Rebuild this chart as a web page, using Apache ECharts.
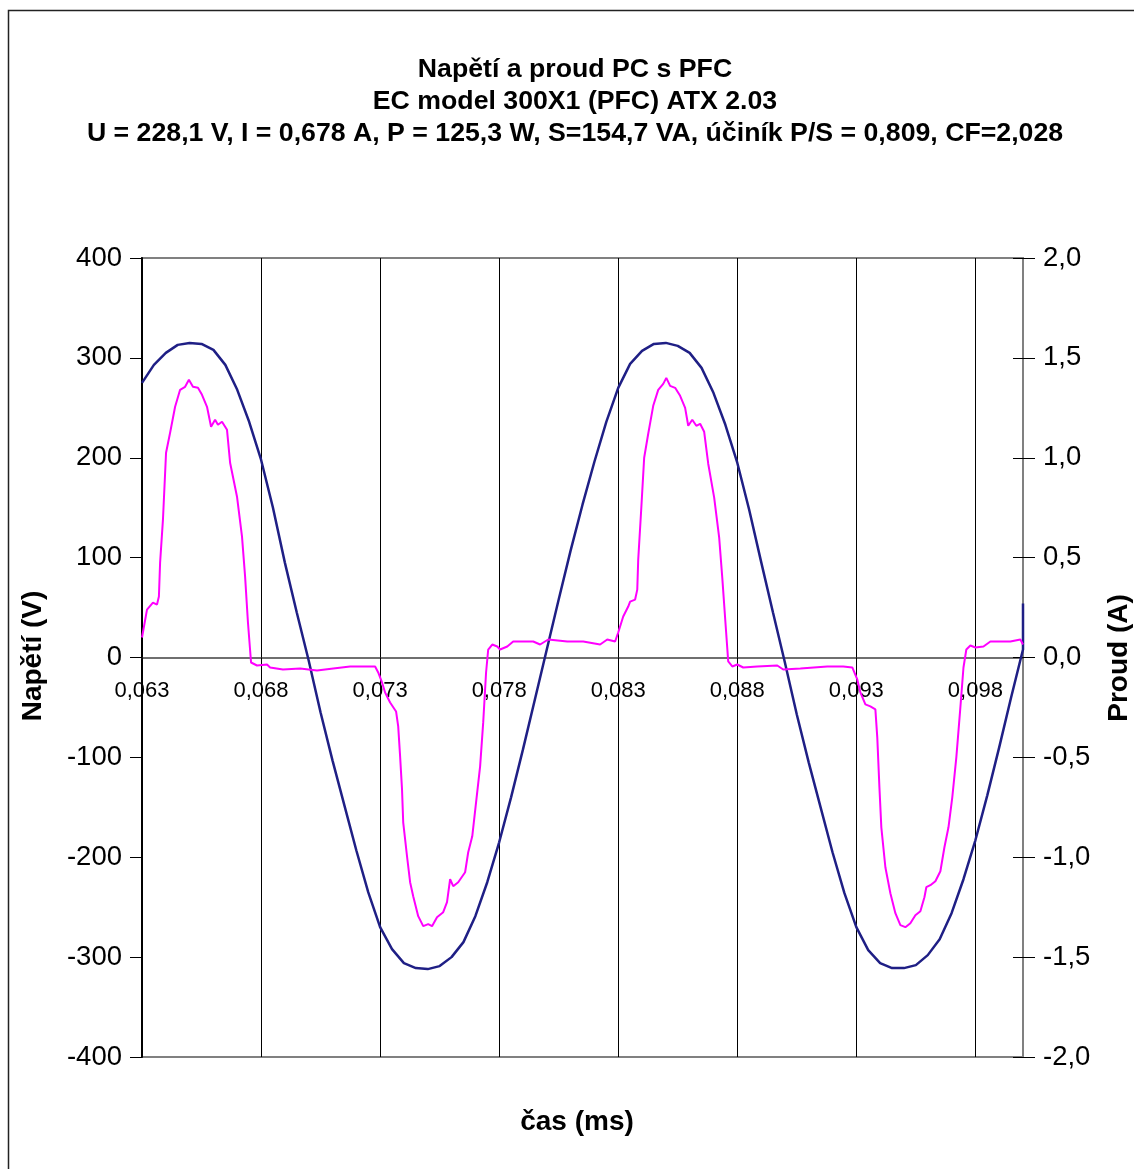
<!DOCTYPE html>
<html>
<head>
<meta charset="utf-8">
<script src="https://cdn.jsdelivr.net/npm/echarts@6/dist/echarts.min.js"></script>
<style>
  html, body { margin: 0; padding: 0; background: #fff; }
  #chart { width: 1134px; height: 1169px; }
</style>
</head>
<body>
<div id="chart"></div>
<script>
  // cas (s) a napeti (V)
  const voltTime = [
    0.0630, 0.0635, 0.0640, 0.0645, 0.0650, 0.0655, 0.0660, 0.0665, 0.0670, 0.0675,
    0.0680, 0.0685, 0.0690, 0.0695, 0.0700, 0.0705, 0.0710, 0.0715, 0.0720, 0.0725,
    0.0730, 0.0735, 0.0740, 0.0745, 0.0750, 0.0755, 0.0760, 0.0765, 0.0770, 0.0775,
    0.0780, 0.0785, 0.0790, 0.0795, 0.0800, 0.0805, 0.0810, 0.0815, 0.0820, 0.0825,
    0.0830, 0.0835, 0.0840, 0.0845, 0.0850, 0.0855, 0.0860, 0.0865, 0.0870, 0.0875,
    0.0880, 0.0885, 0.0890, 0.0895, 0.0900, 0.0905, 0.0910, 0.0915, 0.0920, 0.0925,
    0.0930, 0.0935, 0.0940, 0.0945, 0.0950, 0.0955, 0.0960, 0.0965, 0.0970, 0.0975,
    0.0980, 0.0985, 0.0990, 0.0995, 0.1000, 0.1000
  ];
  const voltage = [
    275, 293, 305, 313, 315, 314, 308, 293, 268, 236,
    198, 150, 95, 45, -3, -55, -103, -148, -193, -235,
    -270, -292, -306, -311, -312, -309, -300, -285, -259, -225,
    -185, -140, -92, -42, 8, 58, 107, 153, 196, 236,
    270, 294, 307, 314, 315, 312, 305, 290, 265, 233,
    195, 148, 96, 45, -5, -57, -105, -150, -195, -236,
    -270, -293, -306, -311, -311, -308, -298, -282, -256, -222,
    -183, -138, -90, -40, 8, 54
  ];

  // cas (s) a proud (A)
  const currTime = [
    0.06300, 0.06321, 0.06346, 0.06363, 0.06371, 0.06376, 0.06388, 0.06401, 0.06418, 0.06439,
    0.06460, 0.06481, 0.06497, 0.06514, 0.06535, 0.06552, 0.06573, 0.06590, 0.06607, 0.06619,
    0.06636, 0.06657, 0.06670, 0.06699, 0.06720, 0.06733, 0.06745, 0.06758, 0.06783, 0.06825,
    0.06838, 0.06892, 0.06964, 0.07035, 0.07103, 0.07174, 0.07279, 0.07292, 0.07308, 0.07321,
    0.07342, 0.07367, 0.07376, 0.07384, 0.07392, 0.07397, 0.07413, 0.07426, 0.07439, 0.07460,
    0.07481, 0.07502, 0.07518, 0.07539, 0.07565, 0.07581, 0.07594, 0.07607, 0.07628, 0.07657,
    0.07670, 0.07687, 0.07703, 0.07720, 0.07733, 0.07745, 0.07754, 0.07771, 0.07792, 0.07804,
    0.07834, 0.07859, 0.07943, 0.07972, 0.08006, 0.08086, 0.08153, 0.08224, 0.08254, 0.08287,
    0.08300, 0.08321, 0.08342, 0.08350, 0.08371, 0.08380, 0.08384, 0.08397, 0.08409, 0.08426,
    0.08447, 0.08468, 0.08489, 0.08502, 0.08518, 0.08539, 0.08560, 0.08581, 0.08594, 0.08611,
    0.08628, 0.08644, 0.08661, 0.08678, 0.08703, 0.08724, 0.08737, 0.08750, 0.08762, 0.08779,
    0.08800, 0.08825, 0.08884, 0.08968, 0.08993, 0.09065, 0.09178, 0.09245, 0.09283, 0.09304,
    0.09317, 0.09338, 0.09359, 0.09380, 0.09388, 0.09397, 0.09405, 0.09422, 0.09443, 0.09464,
    0.09485, 0.09506, 0.09527, 0.09548, 0.09569, 0.09586, 0.09594, 0.09611, 0.09632, 0.09653,
    0.09670, 0.09687, 0.09703, 0.09720, 0.09737, 0.09750, 0.09762, 0.09779, 0.09800, 0.09834,
    0.09863, 0.09947, 0.09989, 0.10000
  ];
  const current = [
    0.10, 0.24, 0.275, 0.265, 0.305, 0.475, 0.69, 1.025, 1.125, 1.255,
    1.34, 1.355, 1.39, 1.355, 1.35, 1.315, 1.255, 1.155, 1.19, 1.165,
    1.18, 1.14, 0.975, 0.805, 0.605, 0.405, 0.175, -0.025, -0.04, -0.035,
    -0.05, -0.06, -0.055, -0.065, -0.055, -0.045, -0.045, -0.075, -0.125, -0.175,
    -0.225, -0.27, -0.345, -0.495, -0.66, -0.825, -0.995, -1.125, -1.195, -1.295,
    -1.345, -1.335, -1.345, -1.30, -1.275, -1.225, -1.11, -1.145, -1.125, -1.075,
    -0.975, -0.895, -0.725, -0.545, -0.325, -0.075, 0.04, 0.065, 0.055, 0.04,
    0.055, 0.08, 0.08, 0.065, 0.09, 0.08, 0.08, 0.065, 0.09, 0.08,
    0.125, 0.205, 0.255, 0.28, 0.29, 0.34, 0.49, 0.75, 1.00, 1.12,
    1.26, 1.34, 1.37, 1.40, 1.36, 1.35, 1.31, 1.25, 1.16, 1.19,
    1.16, 1.17, 1.13, 0.97, 0.80, 0.60, 0.40, 0.18, -0.02, -0.045,
    -0.035, -0.05, -0.045, -0.04, -0.06, -0.055, -0.045, -0.045, -0.05, -0.11,
    -0.175, -0.235, -0.245, -0.26, -0.40, -0.65, -0.85, -1.05, -1.18, -1.28,
    -1.34, -1.35, -1.33, -1.29, -1.27, -1.20, -1.15, -1.14, -1.12, -1.07,
    -0.95, -0.85, -0.70, -0.50, -0.25, -0.05, 0.04, 0.06, 0.05, 0.055,
    0.08, 0.08, 0.09, 0.065
  ];

  const xTicks = [0.063, 0.068, 0.073, 0.078, 0.083, 0.088, 0.093, 0.098];

  const titleText = 'Napětí a proud PC s PFC\nEC model 300X1 (PFC) ATX 2.03\n' +
    'U = 228,1 V, I = 0,678 A, P = 125,3 W, S=154,7 VA, účiník P/S = 0,809, CF=2,028';

  const font = '"Liberation Sans", Arial, sans-serif';
  const comma = (v, d) => v.toFixed(d).replace('.', ',');

  const chart = echarts.init(document.getElementById('chart'));
  chart.setOption({
    animation: false,
    backgroundColor: '#fff',
    textStyle: { fontFamily: font },
    title: {
      text: titleText,
      left: 570,
      top: 49,
      textAlign: 'center',
      textStyle: { fontSize: 26.7, fontWeight: 'bold', color: '#000', lineHeight: 32, fontFamily: font }
    },
    grid: {
      left: 142, right: 111, top: 258, bottom: 112,
      show: true, borderColor: '#808080', borderWidth: 2
    },
    graphic: [
      { type: 'rect', shape: { x: 8.5, y: 10.5, width: 1200, height: 1200 },
        style: { fill: null, stroke: '#222', lineWidth: 1.5 }, silent: true },
      { type: 'text', x: 577, y: 1122,
        style: { text: 'čas (ms)', font: 'bold 28px ' + font, fill: '#000', textAlign: 'center', textVerticalAlign: 'middle' } },
      { type: 'text', x: 33, y: 656, rotation: Math.PI / 2,
        style: { text: 'Napětí (V)', font: 'bold 28px ' + font, fill: '#000', textAlign: 'center', textVerticalAlign: 'middle' } },
      { type: 'text', x: 1119, y: 658, rotation: Math.PI / 2,
        style: { text: 'Proud (A)', font: 'bold 28px ' + font, fill: '#000', textAlign: 'center', textVerticalAlign: 'middle' } }
    ],
    xAxis: {
      type: 'value',
      min: 0.063,
      max: 0.1,
      position: 'bottom',
      offset: -399.5,
      axisLine: { onZero: false, lineStyle: { color: '#404040', width: 1.5 } },
      axisTick: { show: true, customValues: xTicks, length: 8, lineStyle: { color: '#000' } },
      axisLabel: {
        customValues: xTicks, fontSize: 22, color: '#000', margin: 22,
        formatter: v => comma(v, 3)
      },
      splitLine: { show: true, lineStyle: { color: '#000', width: 1 } }
    },
    yAxis: [
      {
        type: 'value', position: 'left', min: -400, max: 400, interval: 100,
        axisLine: { show: true, onZero: false, lineStyle: { color: '#000', width: 2 } },
        axisTick: { show: true, length: 12, lineStyle: { color: '#000' } },
        axisLabel: { fontSize: 27.5, color: '#000', margin: 20 },
        splitLine: { show: false }
      },
      {
        type: 'value', position: 'right', min: -2, max: 2, interval: 0.5,
        axisLine: { show: true, onZero: false, lineStyle: { color: '#808080', width: 2 } },
        axisTick: { show: true, length: 12, lineStyle: { color: '#000' } },
        axisLabel: { fontSize: 27.5, color: '#000', margin: 20, formatter: v => comma(v, 1) },
        splitLine: { show: false }
      },
      {
        type: 'value', position: 'right', min: -2, max: 2, interval: 0.5,
        axisLine: { show: false, onZero: false },
        axisTick: { show: true, inside: true, length: 10, lineStyle: { color: '#000' } },
        axisLabel: { show: false },
        splitLine: { show: false }
      }
    ],
    series: [
      {
        name: 'Napětí',
        type: 'line',
        yAxisIndex: 0,
        showSymbol: false,
        color: '#1f1f85',
        lineStyle: { width: 2.5 },
        data: voltTime.map((t, i) => [t, voltage[i]])
      },
      {
        name: 'Proud',
        type: 'line',
        yAxisIndex: 1,
        showSymbol: false,
        color: '#ff00ff',
        lineStyle: { width: 2 },
        data: currTime.map((t, i) => [t, current[i]])
      }
    ]
  });
</script>
</body>
</html>
